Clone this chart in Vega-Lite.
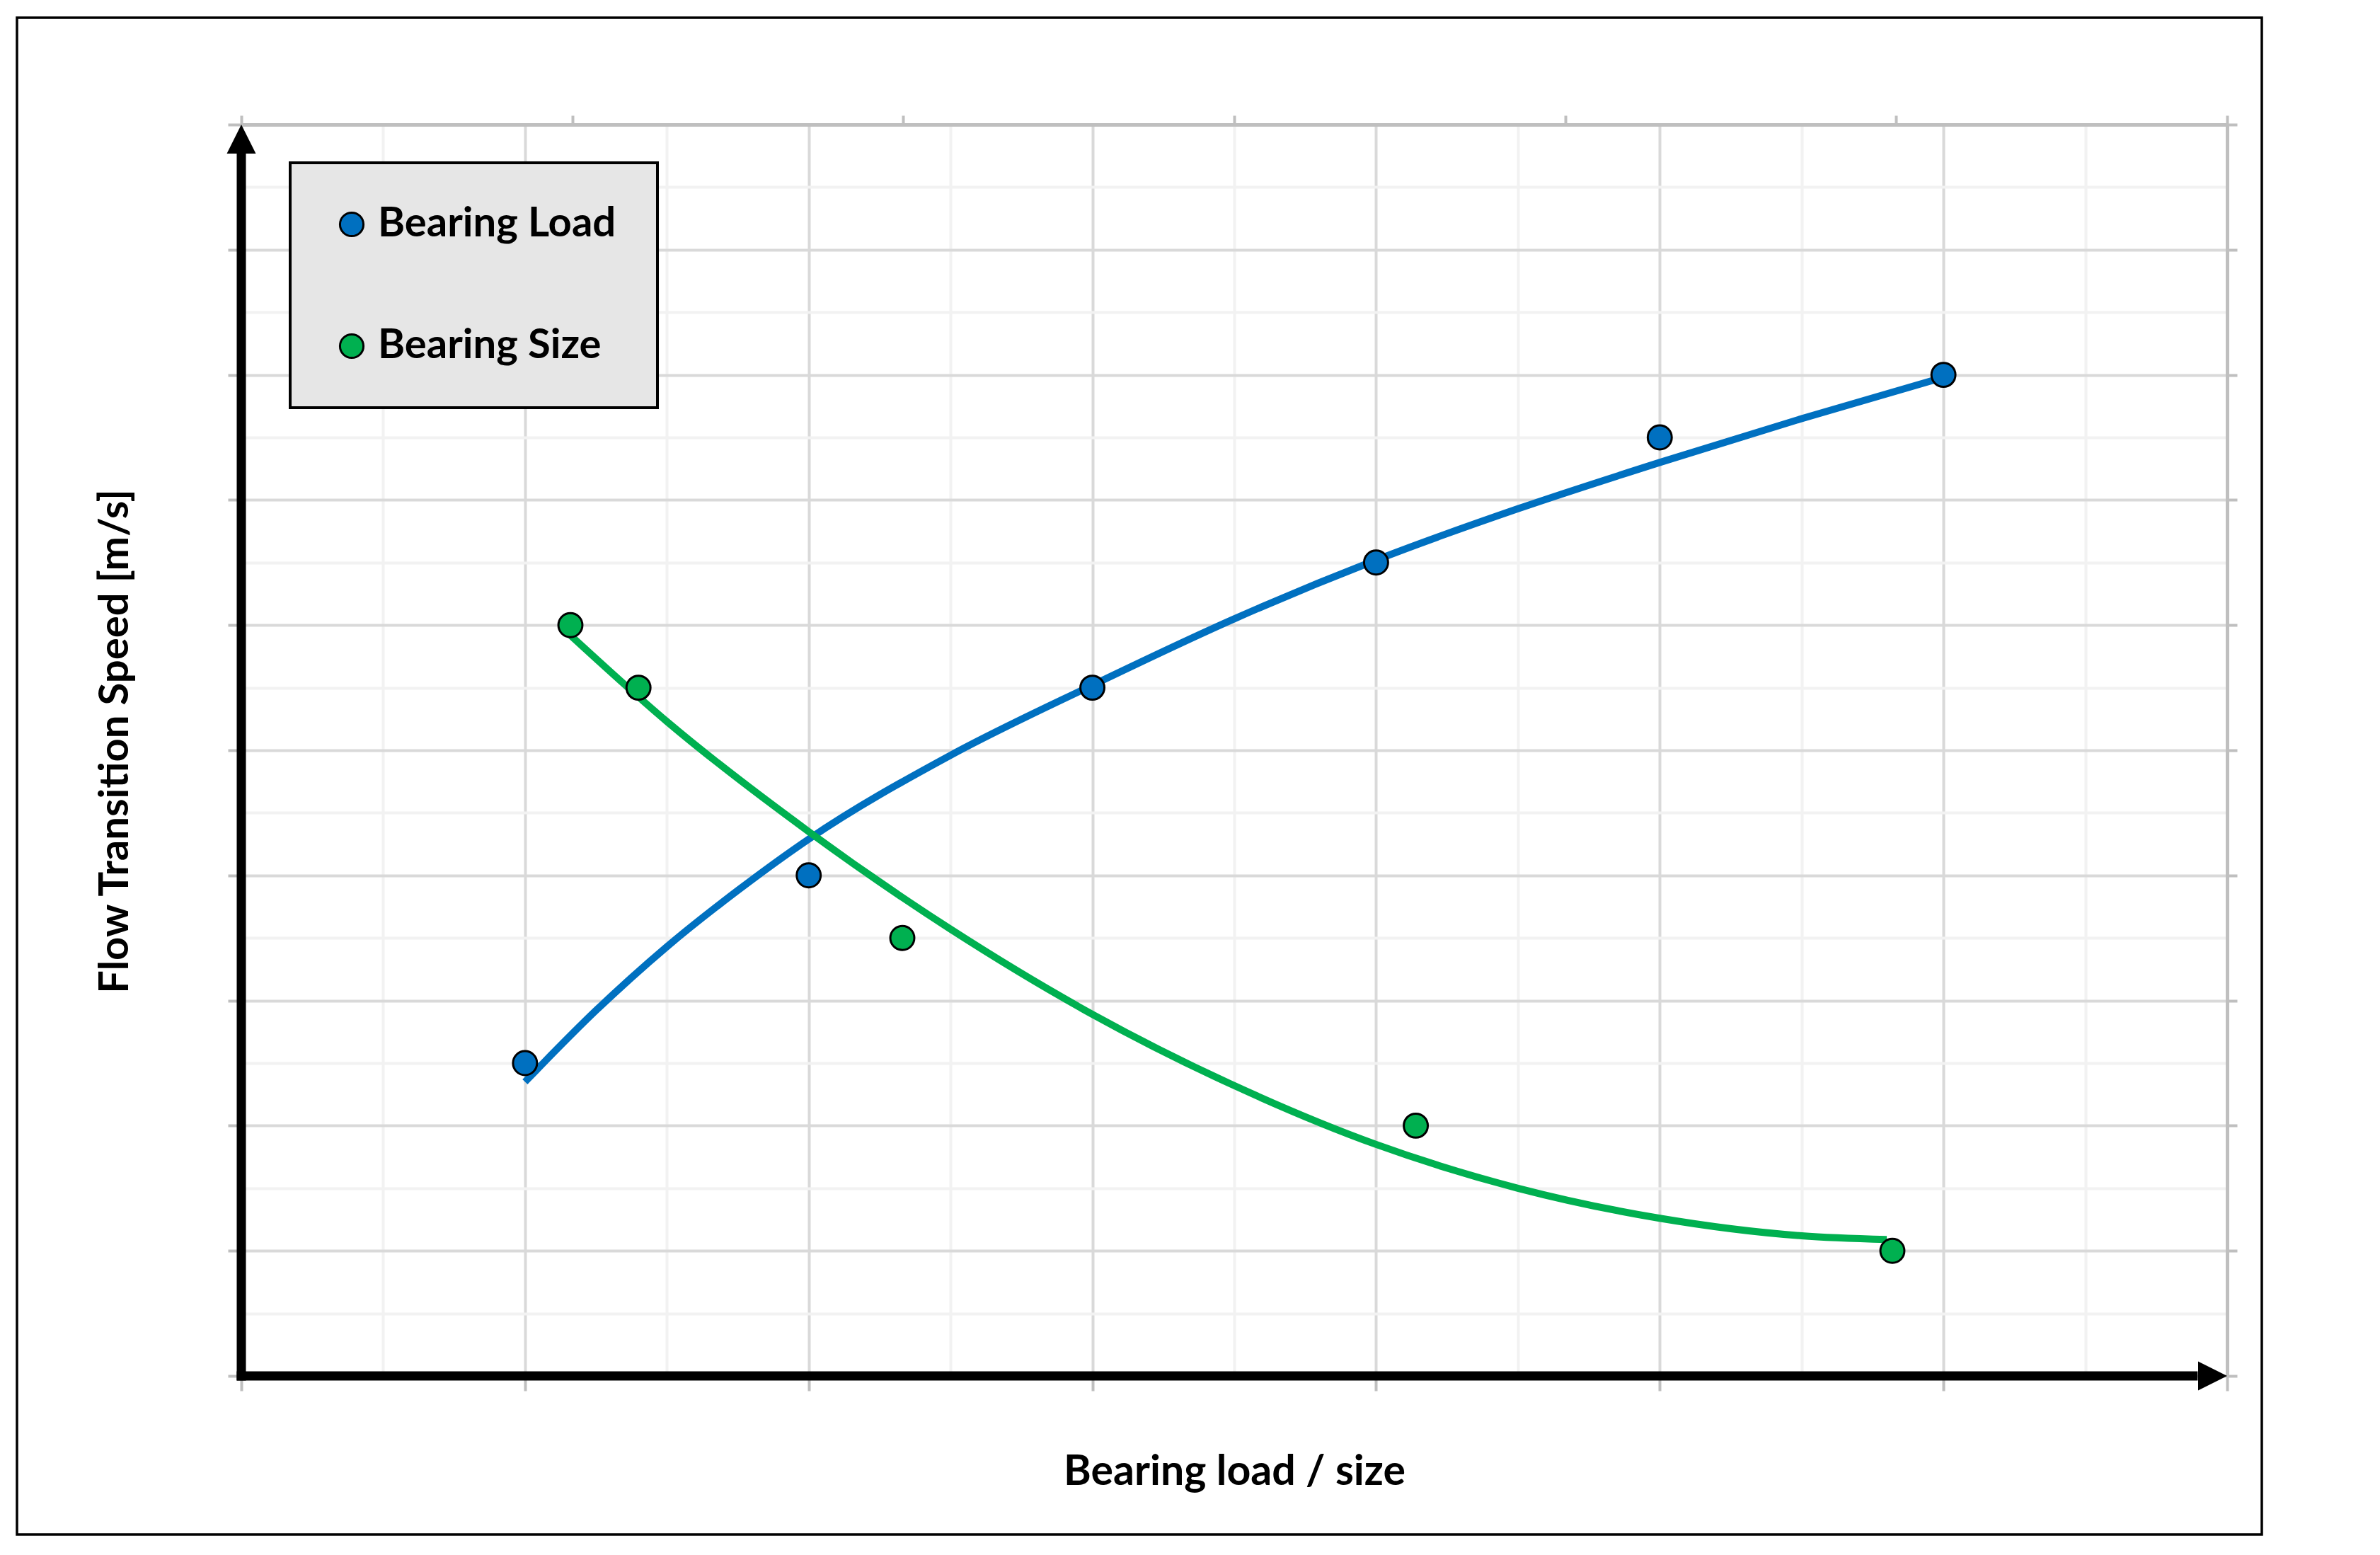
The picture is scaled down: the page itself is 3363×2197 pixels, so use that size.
{
  "$schema": "https://vega.github.io/schema/vega-lite/v6.json",
  "autosize": "none",
  "width": 3172,
  "height": 2143,
  "padding": {"left": 24, "top": 25, "right": 167, "bottom": 29},
  "background": "white",
  "config": {
    "view": {"stroke": "black", "strokeWidth": 3.5},
    "font": "Lato",
    "legend": {"strokeWidth": 4}
  },
  "datasets": {
    "points": [
      {"series": "Bearing Load", "x": 1, "y": 2.5},
      {"series": "Bearing Load", "x": 2, "y": 4},
      {"series": "Bearing Load", "x": 3, "y": 5.5},
      {"series": "Bearing Load", "x": 4, "y": 6.5},
      {"series": "Bearing Load", "x": 5, "y": 7.5},
      {"series": "Bearing Load", "x": 6, "y": 8},
      {"series": "Bearing Size", "x": 1.16, "y": 6},
      {"series": "Bearing Size", "x": 1.4, "y": 5.5},
      {"series": "Bearing Size", "x": 2.33, "y": 3.5},
      {"series": "Bearing Size", "x": 4.14, "y": 2},
      {"series": "Bearing Size", "x": 5.82, "y": 1}
    ],
    "curves": [
      {"series": "Bearing Load", "x": 1.0, "y": 2.35},
      {"series": "Bearing Load", "x": 1.25, "y": 2.92},
      {"series": "Bearing Load", "x": 1.5, "y": 3.43},
      {"series": "Bearing Load", "x": 1.75, "y": 3.88},
      {"series": "Bearing Load", "x": 2.0, "y": 4.29},
      {"series": "Bearing Load", "x": 2.5, "y": 4.96},
      {"series": "Bearing Load", "x": 3.0, "y": 5.52},
      {"series": "Bearing Load", "x": 3.5, "y": 6.05},
      {"series": "Bearing Load", "x": 4.0, "y": 6.52},
      {"series": "Bearing Load", "x": 4.5, "y": 6.93},
      {"series": "Bearing Load", "x": 5.0, "y": 7.3},
      {"series": "Bearing Load", "x": 5.5, "y": 7.65},
      {"series": "Bearing Load", "x": 6.0, "y": 7.98},
      {"series": "Bearing Size", "x": 1.15, "y": 5.94},
      {"series": "Bearing Size", "x": 1.5, "y": 5.23},
      {"series": "Bearing Size", "x": 2.0, "y": 4.35},
      {"series": "Bearing Size", "x": 2.5, "y": 3.57},
      {"series": "Bearing Size", "x": 3.0, "y": 2.89},
      {"series": "Bearing Size", "x": 3.5, "y": 2.32},
      {"series": "Bearing Size", "x": 4.0, "y": 1.85},
      {"series": "Bearing Size", "x": 4.5, "y": 1.5},
      {"series": "Bearing Size", "x": 5.0, "y": 1.26},
      {"series": "Bearing Size", "x": 5.5, "y": 1.12},
      {"series": "Bearing Size", "x": 5.8, "y": 1.09}
    ]
  },
  "layer": [
    {
      "data": {"values": [{}]},
      "mark": {"type": "rule", "stroke": "black", "strokeWidth": 13, "strokeCap": "square"},
      "encoding": {
        "x": {
          "datum": 0, "type": "quantitative",
          "scale": {"domain": [0, 7], "range": [317, 3123], "nice": false, "zero": false},
          "axis": {"orient": "top", "offset": -151, "values": [0.5, 1.5, 2.5, 3.5, 4.5, 5.5, 6.5],
                   "grid": true, "gridColor": "#f2f2f2", "gridWidth": 4, "domain": false, "ticks": false, "labels": false, "title": null}
        },
        "x2": {"datum": 6.88},
        "y": {
          "datum": 0, "type": "quantitative",
          "scale": {"domain": [0, 10], "range": [1919, 151], "nice": false, "zero": false},
          "axis": {"orient": "left", "offset": -317, "values": [0.5, 1.5, 2.5, 3.5, 4.5, 5.5, 6.5, 7.5, 8.5, 9.5],
                   "grid": true, "gridColor": "#f2f2f2", "gridWidth": 4, "domain": false, "ticks": false, "labels": false, "title": null}
        }
      }
    },
    {
      "data": {"name": "curves"},
      "transform": [{"filter": "datum.series === 'Bearing Load'"}],
      "mark": {"type": "line", "strokeWidth": 10, "interpolate": "monotone", "stroke": "#0070C0"},
      "encoding": {
        "x": {
          "field": "x", "type": "quantitative",
          "scale": {"domain": [0, 7], "range": [317, 3123], "nice": false, "zero": false},
          "axis": {"orient": "top", "offset": -151, "values": [0, 1, 2, 3, 4, 5, 6, 7],
                   "grid": true, "gridColor": "#d9d9d9", "gridWidth": 4, "domain": false,
                   "ticks": false, "labels": false, "title": null}
        },
        "y": {
          "field": "y", "type": "quantitative",
          "scale": {"domain": [0, 10], "range": [1919, 151], "nice": false, "zero": false},
          "axis": {"orient": "left", "offset": -317, "values": [0, 1, 2, 3, 4, 5, 6, 7, 8, 9, 10],
                   "grid": true, "gridColor": "#d9d9d9", "gridWidth": 4, "domain": false,
                   "ticks": true, "tickColor": "#bfbfbf", "tickSize": 19, "tickWidth": 4, "labels": false,
                   "title": "Flow Transition Speed [m/s]", "titleFont": "Lato", "titleFontSize": 58, "titleFontWeight": "bold",
                   "titleColor": "black", "titleAngle": -90, "titleX": -161, "titleY": 1022, "titleBaseline": "alphabetic", "titleAlign": "center"}
        }
      }
    },
    {
      "data": {"name": "curves"},
      "transform": [{"filter": "datum.series === 'Bearing Size'"}],
      "mark": {"type": "line", "strokeWidth": 10, "interpolate": "monotone", "stroke": "#00B050"},
      "encoding": {
        "x": {
          "field": "x", "type": "quantitative",
          "scale": {"domain": [0, 7], "range": [317, 3123], "nice": false, "zero": false},
          "axis": {"orient": "bottom", "offset": -224, "values": [0, 1, 2, 3, 4, 5, 6, 7],
                   "grid": false, "domain": false,
                   "ticks": true, "tickColor": "#bfbfbf", "tickSize": 21, "tickWidth": 4, "labels": false,
                   "title": "Bearing load / size", "titleFont": "Lato", "titleFontSize": 59, "titleFontWeight": "bold",
                   "titleColor": "black", "titleX": 1720, "titleY": 153, "titleBaseline": "alphabetic", "titleAlign": "center"}
        },
        "y": {
          "field": "y", "type": "quantitative",
          "scale": {"domain": [0, 10], "range": [1919, 151], "nice": false, "zero": false},
          "axis": {"orient": "right", "offset": -49, "values": [0, 1, 2, 3, 4, 5, 6, 7, 8, 9, 10],
                   "grid": false, "domain": true, "domainColor": "#bfbfbf", "domainWidth": 5,
                   "ticks": true, "tickColor": "#bfbfbf", "tickSize": 14, "tickWidth": 4, "labels": false, "title": null}
        }
      }
    },
    {
      "data": {"name": "points"},
      "mark": {"type": "circle", "size": 1150, "opacity": 1, "stroke": "black", "strokeWidth": 3},
      "encoding": {
        "x": {
          "field": "x", "type": "quantitative",
          "scale": {"domain": [0, 7], "range": [317, 3123], "nice": false, "zero": false},
          "axis": {"orient": "top", "offset": -151, "values": [0, 1.1667, 2.3333, 3.5, 4.6667, 5.8333, 7],
                   "grid": false, "domain": true, "domainColor": "#bfbfbf", "domainWidth": 5,
                   "ticks": true, "tickColor": "#bfbfbf", "tickSize": 13, "tickWidth": 4, "labels": false, "title": null}
        },
        "y": {
          "field": "y", "type": "quantitative",
          "scale": {"domain": [0, 10], "range": [1919, 151], "nice": false, "zero": false},
          "axis": null
        },
        "color": {
          "field": "series", "type": "nominal",
          "scale": {"domain": ["Bearing Load", "Bearing Size"], "range": ["#0070C0", "#00B050"]},
          "legend": {
            "title": null, "orient": "none", "legendX": 386, "legendY": 205, "direction": "vertical",
            "fillColor": "#e6e6e6", "strokeColor": "black", "padding": 58, "rowPadding": 114,
            "labelFont": "Lato", "labelFontSize": 58, "labelFontWeight": "bold", "labelColor": "black",
            "labelOffset": 8, "labelLimit": 1000,
            "symbolType": "circle", "symbolSize": 1100, "symbolStrokeColor": "black", "symbolStrokeWidth": 3, "symbolOpacity": 1
          }
        }
      }
    },
    {
      "data": {"values": [{}]},
      "mark": {"type": "rule", "stroke": "black", "strokeWidth": 13, "strokeCap": "square"},
      "encoding": {
        "x": {"datum": 0, "type": "quantitative", "scale": {"domain": [0, 7], "range": [317, 3123], "nice": false, "zero": false}, "axis": null},
        "y": {"datum": 0, "type": "quantitative", "scale": {"domain": [0, 10], "range": [1919, 151], "nice": false, "zero": false}, "axis": null},
        "y2": {"datum": 9.82}
      }
    },
    {
      "data": {"values": [{}]},
      "mark": {"type": "point", "shape": "M0,0L-2,-1L-2,1Z", "filled": true, "fill": "black", "size": 1681, "opacity": 1, "strokeWidth": 0},
      "encoding": {
        "x": {"datum": 7, "type": "quantitative", "scale": {"domain": [0, 7], "range": [317, 3123], "nice": false, "zero": false}, "axis": null},
        "y": {"datum": 0, "type": "quantitative", "scale": {"domain": [0, 10], "range": [1919, 151], "nice": false, "zero": false}, "axis": null}
      }
    },
    {
      "data": {"values": [{}]},
      "mark": {"type": "point", "shape": "M0,0L-1,2L1,2Z", "filled": true, "fill": "black", "size": 1681, "opacity": 1, "strokeWidth": 0},
      "encoding": {
        "x": {"datum": 0, "type": "quantitative", "scale": {"domain": [0, 7], "range": [317, 3123], "nice": false, "zero": false}, "axis": null},
        "y": {"datum": 10, "type": "quantitative", "scale": {"domain": [0, 10], "range": [1919, 151], "nice": false, "zero": false}, "axis": null}
      }
    }
  ],
  "resolve": {"axis": {"x": "independent", "y": "independent"}}
}
